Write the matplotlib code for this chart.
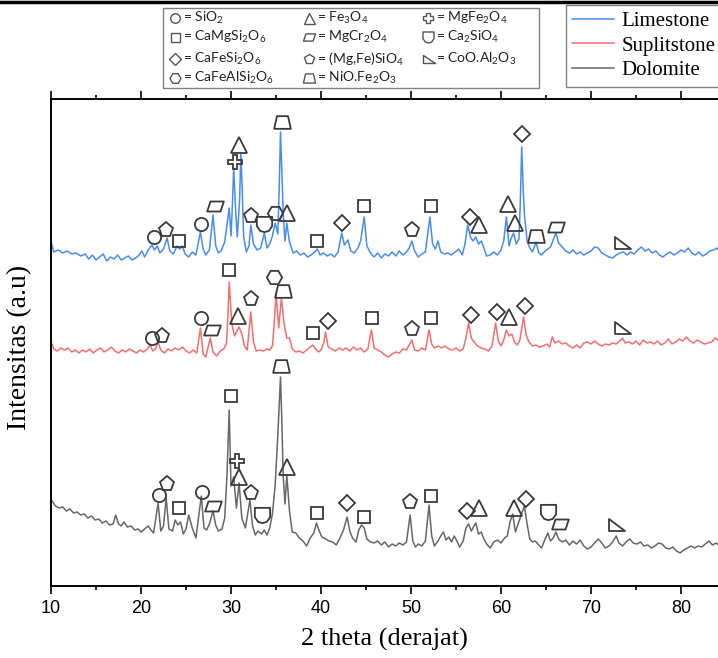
import numpy as np
import matplotlib; matplotlib.use("Agg")
import matplotlib.pyplot as plt
from matplotlib.lines import Line2D
from matplotlib.patches import Rectangle
from matplotlib.path import Path
from matplotlib.ticker import MultipleLocator

plt.rcParams["mathtext.fontset"] = "custom"
plt.rcParams["mathtext.rm"] = "Lato"
plt.rcParams["mathtext.default"] = "regular"

# ---- data (2 theta in derajat, intensitas a.u) ----
lime_x = [10.0,10.3,10.8,11.3,11.8,12.3,12.8,13.3,13.8,14.2,14.6,15.0,15.4,15.8,16.2,16.6,17.0,17.4,17.8,18.2,18.6,19.0,19.4,19.8,20.1,20.4,20.8,21.2,21.5,21.8,22.1,22.5,22.9,23.2,23.6,24.0,24.3,24.6,24.9,25.3,25.7,26.1,26.6,26.9,27.2,27.6,28.0,28.3,28.6,28.9,29.3,29.8,30.0,30.15,30.3,30.5,30.7,30.95,31.1,31.25,31.4,31.7,32.0,32.2,32.5,32.9,33.3,33.7,34.0,34.3,34.6,34.9,35.2,35.35,35.5,35.65,35.8,36.0,36.2,36.5,36.9,37.3,37.7,38.1,38.5,38.9,39.3,39.6,39.9,40.3,40.7,41.1,41.5,41.9,42.3,42.6,43.0,43.3,43.7,44.1,44.4,44.8,45.1,45.5,45.9,46.3,46.7,47.1,47.5,47.9,48.3,48.7,49.1,49.5,49.8,50.1,50.4,50.8,51.2,51.6,52.1,52.4,52.7,53.0,53.3,53.7,54.1,54.5,54.9,55.3,55.7,56.0,56.3,56.6,56.9,57.2,57.5,57.8,58.1,58.4,58.8,59.2,59.6,60.0,60.3,60.6,60.9,61.1,61.4,61.7,62.0,62.15,62.3,62.45,62.6,62.9,63.2,63.5,63.9,64.2,64.5,64.8,65.2,65.5,65.8,66.1,66.4,66.8,67.2,67.6,68.0,68.4,68.8,69.2,69.6,70.0,70.4,70.8,71.2,71.6,72.0,72.4,72.8,73.2,73.6,74.0,74.4,74.8,75.2,75.6,76.0,76.4,76.8,77.2,77.6,78.0,78.4,78.8,79.2,79.6,80.0,80.4,80.8,81.2,81.6,82.0,82.4,82.8,83.2,83.6,84.0,84.4,84.8,85.5,86.0]
lime_y = [345,334,336,333,335,332,333,330,332,327,331,326,329,332,325,329,327,331,326,328,330,326,328,331,335,329,336,341,336,340,333,337,348,335,332,340,337,340,332,329,334,331,354,337,331,336,371,340,333,335,344,378,350,380,418,378,349,385,433,395,350,334,340,361,342,336,338,353,338,342,350,363,352,395,454,415,372,345,363,344,333,335,331,333,329,331,334,337,331,333,330,332,329,334,353,341,346,335,333,338,345,369,340,333,329,333,328,332,330,334,330,335,331,334,338,345,335,329,332,334,369,342,337,345,334,332,333,331,334,337,331,342,361,349,345,349,342,345,338,330,331,334,331,336,345,369,340,347,353,342,347,385,439,400,372,345,338,334,344,333,331,334,337,339,346,353,343,339,335,333,336,332,334,331,333,335,339,338,333,331,329,328,331,333,334,331,334,332,336,339,335,337,333,335,331,329,332,334,331,333,336,334,338,333,331,334,330,332,335,336,338,333,336,334,335]

supl_x = [10.0,10.3,10.7,11.1,11.5,11.9,12.3,12.7,13.1,13.5,13.9,14.3,14.7,15.1,15.5,15.9,16.3,16.7,17.1,17.5,17.9,18.3,18.7,19.1,19.5,19.9,20.3,20.7,21.0,21.3,21.6,21.9,22.2,22.6,23.0,23.4,23.8,24.2,24.6,25.0,25.4,25.8,26.2,26.6,26.9,27.2,27.7,28.0,28.4,28.8,29.2,29.5,29.65,29.8,29.95,30.1,30.4,30.6,30.9,31.2,31.5,31.8,32.2,32.5,32.8,33.2,33.6,34.0,34.3,34.6,34.8,35.0,35.3,35.6,35.9,36.2,36.5,36.8,37.2,37.6,38.0,38.4,38.8,39.1,39.4,39.7,40.0,40.3,40.5,40.8,41.2,41.6,42.0,42.4,42.8,43.2,43.6,44.0,44.4,44.8,45.2,45.6,45.9,46.3,46.7,47.1,47.5,47.9,48.3,48.7,49.1,49.5,49.8,50.1,50.4,50.8,51.2,51.6,52.0,52.3,52.6,53.0,53.4,53.8,54.2,54.6,55.0,55.4,55.8,56.1,56.4,56.7,57.0,57.4,57.8,58.2,58.6,59.0,59.4,59.7,60.0,60.3,60.6,60.9,61.2,61.5,61.8,62.1,62.5,62.8,63.1,63.5,63.9,64.3,64.7,65.1,65.4,65.7,66.0,66.4,66.8,67.2,67.6,68.0,68.4,68.8,69.2,69.6,70.0,70.4,70.8,71.2,71.6,72.0,72.4,72.8,73.2,73.5,73.8,74.2,74.6,75.0,75.4,75.8,76.2,76.6,77.0,77.4,77.8,78.2,78.6,79.0,79.4,79.8,80.2,80.6,81.0,81.4,81.8,82.2,82.6,83.0,83.4,83.8,84.2,84.6,85.2,86.0]
supl_y = [245,237,235,238,236,238,234,236,233,236,234,237,233,236,238,234,236,239,235,233,236,234,237,235,233,236,234,237,241,235,237,244,236,233,237,235,238,236,239,235,233,236,233,258,232,229,248,234,230,235,237,243,268,304,282,262,250,254,259,252,240,236,274,244,235,236,235,237,236,240,262,293,258,288,262,248,248,237,234,235,233,236,239,241,237,234,236,243,254,239,237,235,238,236,238,235,239,236,238,234,237,256,238,236,234,231,229,232,234,233,237,236,241,246,236,235,238,236,256,242,238,240,238,240,237,236,238,235,237,248,263,248,244,240,238,237,235,240,263,245,240,246,256,250,252,244,241,246,269,251,244,240,241,239,240,242,239,249,243,245,242,243,240,238,241,238,243,244,242,245,242,240,242,241,243,242,245,248,243,244,242,245,241,246,243,244,242,245,241,243,247,242,244,247,245,249,245,243,246,244,242,243,244,248,245,247,244,245]

dolo_x = [10.0,10.2,10.5,10.9,11.3,11.7,12.1,12.5,12.9,13.3,13.7,14.1,14.5,14.9,15.3,15.7,16.1,16.5,16.9,17.2,17.5,17.8,18.1,18.5,18.9,19.3,19.7,20.0,20.4,20.8,21.1,21.4,21.9,22.2,22.5,22.8,23.1,23.5,23.8,24.1,24.4,24.7,25.0,25.3,25.7,26.1,26.7,27.0,27.3,27.6,28.0,28.3,28.6,29.0,29.3,29.55,29.8,29.9,30.0,30.3,30.6,30.9,31.2,31.6,32.1,32.4,32.7,33.0,33.4,33.7,34.0,34.3,34.6,34.9,35.2,35.5,35.65,35.8,36.0,36.2,36.5,36.8,37.2,37.6,38.0,38.4,38.8,39.2,39.5,39.8,40.1,40.5,40.9,41.3,41.7,42.1,42.5,42.9,43.2,43.5,43.9,44.2,44.5,44.8,45.1,45.5,45.9,46.3,46.7,47.1,47.5,47.9,48.3,48.7,49.1,49.5,49.9,50.2,50.5,50.8,51.2,51.6,52.0,52.3,52.6,53.0,53.3,53.6,53.9,54.2,54.5,54.8,55.1,55.4,55.8,56.1,56.4,56.7,57.0,57.2,57.5,57.8,58.1,58.4,58.8,59.2,59.6,60.0,60.4,60.7,61.0,61.3,61.6,61.9,62.2,62.6,62.9,63.2,63.5,63.8,64.2,64.5,64.9,65.2,65.5,65.8,66.1,66.4,66.8,67.2,67.6,68.0,68.4,68.8,69.2,69.6,70.0,70.4,70.8,71.2,71.6,72.0,72.4,72.8,73.1,73.5,73.9,74.3,74.7,75.1,75.5,75.9,76.3,76.7,77.1,77.5,77.9,78.3,78.7,79.1,79.5,79.9,80.3,80.7,81.1,81.5,81.9,82.3,82.7,83.1,83.5,83.9,84.3,84.8,85.5,86.0]
dolo_y = [86,84,80,78,79,75,77,73,74,71,72,68,70,66,67,63,65,61,62,71,62,60,64,59,60,56,57,54,57,60,56,53,83,55,60,88,57,55,66,61,64,52,57,71,58,48,90,58,56,62,75,61,55,57,68,110,176,140,100,109,78,103,68,58,86,60,51,55,52,56,51,58,72,100,150,209,165,110,82,111,75,54,53,48,45,40,48,53,63,55,49,47,45,44,41,48,56,69,55,48,44,56,61,58,47,44,43,45,41,44,39,42,40,43,41,44,71,45,39,42,40,45,81,50,40,45,50,54,46,49,44,50,45,39,45,58,62,55,60,63,52,54,47,42,38,44,46,43,48,50,64,72,54,62,70,80,62,47,44,45,41,38,47,53,45,48,54,47,44,46,41,45,42,46,40,37,39,43,47,43,38,40,44,50,43,40,44,47,43,42,44,40,41,38,40,43,42,38,37,39,35,33,36,38,40,38,40,39,42,45,41,43,40,42,41,42]

# phase markers: key, 2theta, height
lime_mk = ["o","pt","s","o","par","mf","tri","pt","cs","hx","tri","nf","s","d","s","pt","s","d","tri","tri","tri","d","nf","par","co"]
lime_mx = [21.4,22.8,24.2,26.7,28.2,30.4,30.9,32.2,33.7,34.9,36.2,35.7,39.6,42.3,44.8,50.1,52.2,56.6,57.6,60.8,61.5,62.3,63.9,66.1,73.4]
lime_my = [349,356,345,362,380,424,441,370,362,373,373,464,345,363,380,356,380,369,361,382,363,452,350,359,343]

supl_mk = ["o","pt","o","par","s","tri","pt","hx","nf","s","d","s","pt","s","d","d","tri","d","co"]
supl_mx = [21.2,22.3,26.7,27.9,29.8,30.8,32.2,34.8,35.8,39.1,40.8,45.7,50.1,52.2,56.7,59.5,60.9,62.7,73.4]
supl_my = [248,250,268,256,316,270,287,309,295,253,265,268,257,268,271,274,269,280,258]

dolo_mk = ["o","pt","s","o","par","s","mf","tri","pt","cs","nf","tri","s","d","s","pt","s","d","tri","tri","d","cs","par","co"]
dolo_mx = [22.0,22.9,24.2,26.8,28.0,30.0,30.7,30.9,32.2,33.4,35.5,36.2,39.6,42.9,44.8,49.9,52.2,56.2,57.6,61.4,62.8,65.2,66.6,72.8]
dolo_my = [91,102,78,94,80,190,125,109,93,71,220,119,73,83,69,84,90,75,78,78,87,74,62,61]

def shape(pts):
    return Path(pts + [pts[0]], [Path.MOVETO] + [Path.LINETO] * (len(pts) - 1) + [Path.CLOSEPOLY])

MARK = {
    "o":   ("o", "= SiO$_2$"),
    "s":   ("s", "= CaMgSi$_2$O$_6$"),
    "d":   ("D", "= CaFeSi$_2$O$_6$"),
    "hx":  ("H", "= CaFeAlSi$_2$O$_6$"),
    "tri": ("^", "= Fe$_3$O$_4$"),
    "par": (shape([(-0.55,-0.33),(0.33,-0.33),(0.55,0.33),(-0.33,0.33)]), "= MgCr$_2$O$_4$"),
    "pt":  ("p", "= (Mg,Fe)SiO$_4$"),
    "nf":  (shape([(-0.5,-0.38),(0.5,-0.38),(0.33,0.38),(-0.33,0.38)]), "= NiO.Fe$_2$O$_3$"),
    "mf":  ("P", "= MgFe$_2$O$_4$"),
    "cs":  (shape([(-0.45,0.45),(0.45,0.45),(0.45,-0.1),(0.25,-0.38),(0,-0.45),(-0.25,-0.38),(-0.45,-0.1)]), "= Ca$_2$SiO$_4$"),
    "co":  (shape([(-0.45,0.38),(-0.45,-0.38),(0.55,-0.38)]), "= CoO.Al$_2$O$_3$"),
}
SIZE = {"o": 9.5, "s": 9, "d": 8, "hx": 11, "tri": 11, "par": 12, "pt": 11, "nf": 12, "mf": 10.5, "cs": 11, "co": 13}
MK_COL = "#3a3a3a"

W, H = 718, 658
fig = plt.figure(figsize=(W/100, H/100), dpi=100)
ax = fig.add_axes([51/W, 72/H, 684/W, 487/H])

ax.plot(lime_x, lime_y, color="#4a8cee", lw=1.1)
ax.plot(supl_x, supl_y, color="#f26f6f", lw=1.1)
ax.plot(dolo_x, dolo_y, color="#676767", lw=1.1)

for keys, xs, ys in [(lime_mk, lime_mx, lime_my), (supl_mk, supl_mx, supl_my), (dolo_mk, dolo_mx, dolo_my)]:
    for k, x, y in zip(keys, xs, ys):
        ax.plot(x, y, ls="", marker=MARK[k][0], ms=SIZE[k], mfc="none", mec=MK_COL, mew=1.3)

ax.set_xlim(10, 86)
ax.set_ylim(0, 487)
ax.xaxis.set_major_locator(MultipleLocator(10))
ax.xaxis.set_minor_locator(MultipleLocator(5))
ax.set_yticks([])
ax.tick_params(axis="x", which="both", top=True, direction="out", width=1.2, labelsize=13, pad=4)
ax.tick_params(axis="x", which="major", length=6)
ax.tick_params(axis="x", which="minor", length=3)
for lab in ax.get_xticklabels():
    lab.set_fontfamily("Liberation Sans")
for s in ["left", "top", "bottom"]:
    ax.spines[s].set_linewidth(1.4)
ax.spines["right"].set_visible(False)

ax.set_xlabel("2 theta (derajat)", fontfamily="Liberation Serif", fontsize=19)
ax.set_ylabel("Intensitas (a.u)", fontfamily="Liberation Serif", fontsize=20)
ax.xaxis.set_label_coords(0.488, -0.086)
ax.yaxis.set_label_coords(-0.028, 0.49)

# phase legend, placed by hand in pixel positions of the figure
def fx(px): return px / W
def fy(py): return 1 - py / H

fig.add_artist(Rectangle((fx(163), fy(88)), (539-163)/W, 80/H, transform=fig.transFigure,
                         fill=False, edgecolor="#808080", lw=1.0))
cols = [["o", "s", "d", "hx"], ["tri", "par", "pt", "nf"], ["mf", "cs", "co"]]
col_mx = [175, 309, 428]
row_y = [18, 37, 59, 78]
for ci, keys in enumerate(cols):
    for ri, k in enumerate(keys):
        fig.add_artist(Line2D([fx(col_mx[ci])], [fy(row_y[ri])], ls="", marker=MARK[k][0],
                              ms=SIZE[k] * 0.72, mfc="none", mec="#555555", mew=1.0,
                              transform=fig.transFigure))
        fig.text(fx(col_mx[ci] + 8), fy(row_y[ri]), MARK[k][1], fontfamily="Lato", fontsize=10,
                 va="center", ha="left", color="#222222")

# series legend
lh = [Line2D([], [], color=c, lw=1.1) for c in ["#4a8cee", "#f26f6f", "#676767"]]
leg2 = fig.legend(lh, ["Limestone", "Suplitstone", "Dolomite"], loc="upper left",
                  bbox_to_anchor=(566/W, 1 - 5/H), prop={"family": "Liberation Serif", "size": 15},
                  fancybox=False, edgecolor="#808080", framealpha=1, handlelength=2.0,
                  handletextpad=0.35, labelspacing=0.25, borderpad=0.3, borderaxespad=0)
leg2.get_frame().set_linewidth(1.0)

fig.add_artist(Line2D([0, 1], [1 - 1.5/H] * 2, color="black", lw=2.5, transform=fig.transFigure))

fig.savefig("out.png", dpi=100)
